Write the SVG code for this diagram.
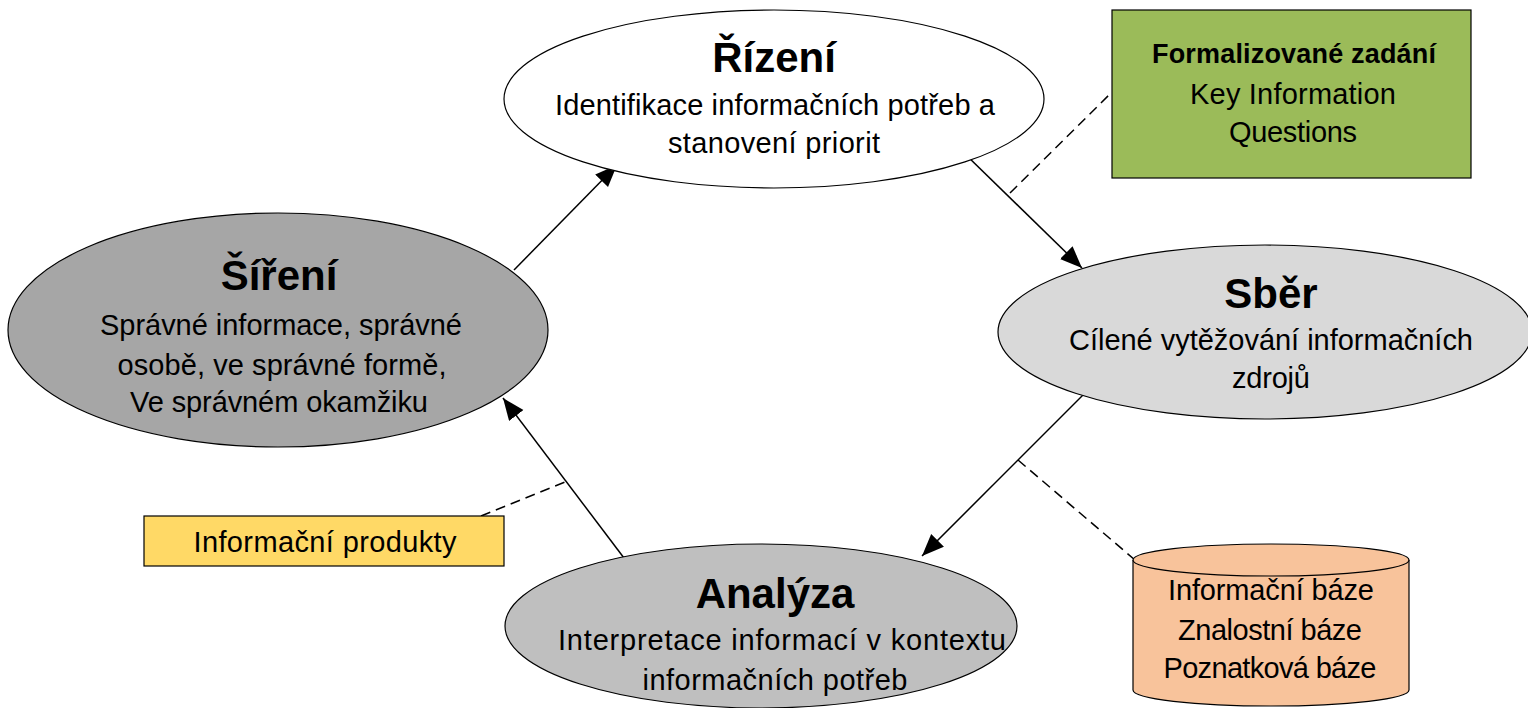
<svg xmlns="http://www.w3.org/2000/svg" width="1528" height="708" viewBox="0 0 1528 708">
<defs>
<marker id="arr" markerUnits="userSpaceOnUse" markerWidth="24" markerHeight="20" refX="22" refY="9" orient="auto">
<path d="M0,0 L22,9 L0,18 z" fill="#000"/>
</marker>
<style>
.sh{stroke:#000;stroke-width:1.2}
.t{font-family:"Liberation Sans",Arial,sans-serif;font-size:29px;fill:#000;text-anchor:middle}
.h{font-family:"Liberation Sans",Arial,sans-serif;font-size:42px;font-weight:bold;fill:#000;text-anchor:middle}
.b{font-weight:bold;font-size:27px}
.c{fill:none;stroke:#000;stroke-width:1.5}
.d{fill:none;stroke:#000;stroke-width:1.5;stroke-dasharray:10 6}
</style>
</defs>
<rect width="1528" height="708" fill="#fff"/>
<g id="connectors">
<line class="c" x1="514" y1="270" x2="617" y2="165" marker-end="url(#arr)"/>
<line class="c" x1="963" y1="152" x2="1082" y2="268" marker-end="url(#arr)"/>
<line class="c" x1="1085" y1="393" x2="922" y2="556" marker-end="url(#arr)"/>
<line class="c" x1="624" y1="558" x2="503" y2="398" marker-end="url(#arr)"/>
<line class="d" x1="1010" y1="193" x2="1112" y2="92"/>
<line class="d" x1="1018" y1="460" x2="1135" y2="560"/>
<line class="d" x1="481" y1="516" x2="565" y2="482"/>
</g>
<g id="rizeni">
<ellipse class="sh" cx="774" cy="99" rx="270" ry="89" fill="#fff"/>
<text class="h" x="774" y="72">Řízení</text>
<text class="t" x="775" y="115" textLength="440">Identifikace informačních potřeb a</text>
<text class="t" x="774" y="153" textLength="212">stanovení priorit</text>
</g>
<g id="zadani">
<rect class="sh" x="1112" y="10" width="359" height="168" fill="#9BBB59"/>
<text class="t b" x="1294" y="63" textLength="284">Formalizované zadání</text>
<text class="t" x="1293" y="104" textLength="206">Key Information</text>
<text class="t" x="1293" y="142" textLength="128">Questions</text>
</g>
<g id="sber">
<ellipse class="sh" cx="1265" cy="332" rx="267" ry="87" fill="#D9D9D9"/>
<text class="h" x="1271" y="308">Sběr</text>
<text class="t" x="1271" y="350" textLength="404">Cílené vytěžování informačních</text>
<text class="t" x="1271" y="388" textLength="78">zdrojů</text>
</g>
<g id="baze">
<path class="sh" d="M1133,560 V690 A138,16 0 0 0 1409,690 V560" fill="#F8C39B"/>
<ellipse class="sh" cx="1271" cy="560" rx="138" ry="16" fill="#F8C39B"/>
<text class="t" x="1271" y="600" textLength="206">Informační báze</text>
<text class="t" x="1270" y="640" textLength="184">Znalostní báze</text>
<text class="t" x="1270" y="678" textLength="213">Poznatková báze</text>
</g>
<g id="analyza">
<ellipse class="sh" cx="761" cy="626" rx="256" ry="82" fill="#BFBFBF"/>
<text class="h" x="775" y="608">Analýza</text>
<text class="t" x="782" y="650" textLength="448">Interpretace informací v kontextu</text>
<text class="t" x="775" y="690" textLength="265">informačních potřeb</text>
</g>
<g id="sireni">
<ellipse class="sh" cx="278" cy="330" rx="270" ry="117" fill="#A6A6A6"/>
<text class="h" x="279" y="290">Šíření</text>
<text class="t" x="281" y="335" textLength="362">Správné informace, správné</text>
<text class="t" x="282" y="375" textLength="329">osobě, ve správné formě,</text>
<text class="t" x="279" y="412" textLength="298">Ve správném okamžiku</text>
</g>
<g id="produkty">
<rect class="sh" x="144" y="516" width="360" height="50" fill="#FFD966"/>
<text class="t" x="325" y="552" textLength="263">Informační produkty</text>
</g>
</svg>
